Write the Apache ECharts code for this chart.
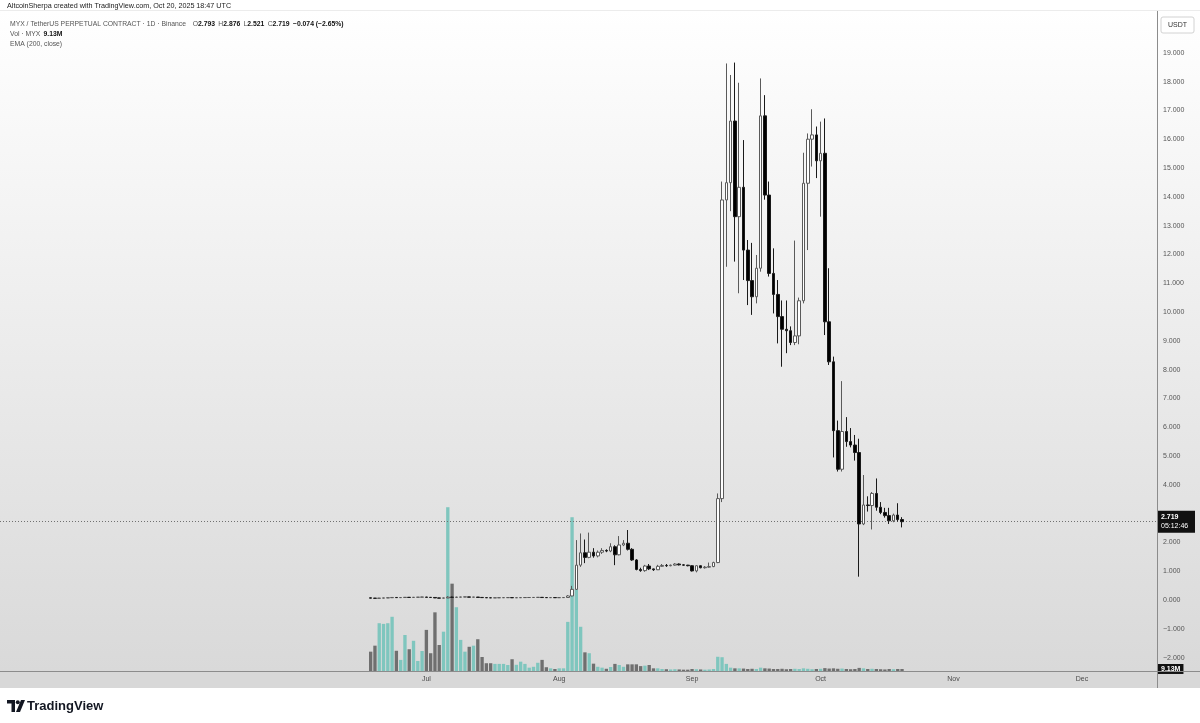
<!DOCTYPE html>
<html><head><meta charset="utf-8">
<script src="https://cdn.jsdelivr.net/npm/echarts@6/dist/echarts.min.js"></script>
<style>html,body{margin:0;padding:0;background:#fff}#c{width:1200px;height:723px}</style>
</head><body><div id="c"></div>
<script>
// ---- data (MYX/USDT perpetual, 1D, Binance) ----
const firstDate = '2025-06-18';
const opens = [0.075,0.065,0.058,0.066,0.072,0.079,0.088,0.082,0.086,0.094,0.088,0.095,0.098,
  0.104,0.092,0.088,0.072,0.065,0.070,0.100,0.092,0.100,0.104,0.108,0.098,0.102,0.090,0.083,0.078,0.074,0.077,0.080,0.082,0.084,0.078,0.080,0.084,0.086,0.087,0.089,0.093,0.085,0.082,0.084,
  0.081,0.083,0.087,0.140,0.370,1.21,1.64,1.48,1.66,1.53,1.66,1.72,1.70,1.85,1.57,1.91,1.97,1.76,1.39,1.06,1.02,1.18,1.08,1.05,1.17,1.20,1.19,1.21,1.25,1.22,1.21,
  1.19,1.01,1.19,1.12,1.14,1.16,1.30,3.52,13.89,14.49,16.63,13.31,14.33,12.15,11.09,10.53,11.52,16.81,14.06,11.34,10.61,9.84,9.40,9.35,8.94,9.17,10.39,14.47,16.00,16.15,
  15.25,15.51,9.66,8.27,5.88,4.54,5.85,5.50,5.38,5.12,2.64,3.30,3.28,3.70,3.22,3.04,2.93,2.75,2.95,2.793];
const highs = [0.080,0.070,0.072,0.076,0.084,0.095,0.092,0.089,0.099,0.097,0.099,0.100,0.108,
  0.107,0.095,0.091,0.076,0.078,0.135,0.115,0.112,0.108,0.112,0.110,0.105,0.104,0.092,0.086,0.080,0.079,0.082,0.084,0.086,0.086,0.082,0.087,0.088,0.088,0.090,0.096,0.094,0.087,0.086,0.085,
  0.085,0.090,0.170,0.490,2.08,2.31,2.10,2.34,1.80,1.72,1.80,1.76,1.97,1.90,2.22,2.08,2.43,1.80,1.42,1.12,1.22,1.25,1.09,1.22,1.25,1.25,1.23,1.28,1.27,1.24,1.22,
  1.21,1.21,1.20,1.18,1.30,1.33,3.70,14.53,18.63,18.23,18.66,17.96,15.97,12.50,12.40,11.98,18.11,17.53,14.53,12.21,11.11,10.40,10.40,9.50,12.48,10.50,15.53,16.20,17.04,16.44,
  16.61,16.72,11.52,8.45,6.23,7.60,6.35,5.97,5.73,5.60,4.34,3.60,3.75,4.22,3.40,3.20,3.20,3.00,3.36,2.876];
const lows = [0.060,0.055,0.055,0.062,0.068,0.075,0.078,0.079,0.083,0.085,0.086,0.092,0.095,
  0.090,0.086,0.068,0.062,0.060,0.065,0.085,0.088,0.095,0.100,0.096,0.094,0.088,0.081,0.076,0.072,0.072,0.075,0.078,0.080,0.076,0.076,0.078,0.082,0.084,0.085,0.087,0.083,0.080,0.081,0.079,
  0.080,0.082,0.080,0.130,0.350,1.15,1.28,1.45,1.47,1.48,1.60,1.66,1.66,1.21,1.55,1.87,1.72,1.36,1.03,0.98,0.98,1.04,1.01,1.04,1.15,1.15,1.17,1.19,1.20,1.19,1.17,
  0.99,0.96,1.10,1.09,1.12,1.14,1.28,3.40,11.57,13.50,11.75,10.65,11.11,10.24,9.90,10.30,11.40,13.90,11.23,9.95,8.91,8.10,8.57,8.85,8.85,8.88,10.30,12.15,15.05,14.65,
  13.31,9.20,8.16,4.95,4.46,4.46,5.32,5.30,4.84,0.81,2.60,3.07,2.45,3.10,2.98,2.86,2.64,2.70,2.72,2.521];
const closes = [0.065,0.058,0.066,0.072,0.079,0.088,0.082,0.086,0.094,0.088,0.095,0.098,0.104,
  0.092,0.088,0.072,0.065,0.070,0.100,0.092,0.100,0.104,0.108,0.098,0.102,0.090,0.083,0.078,0.074,0.077,0.080,0.082,0.084,0.078,0.080,0.084,0.086,0.087,0.089,0.093,0.085,0.082,0.084,0.081,
  0.083,0.087,0.140,0.370,1.21,1.64,1.48,1.66,1.53,1.66,1.72,1.70,1.85,1.57,1.91,1.97,1.76,1.39,1.06,1.02,1.18,1.08,1.05,1.17,1.20,1.19,1.21,1.25,1.22,1.21,1.19,
  1.01,1.19,1.12,1.14,1.16,1.30,3.52,13.89,14.49,16.63,13.31,14.33,12.15,11.09,10.53,11.52,16.81,14.06,11.34,10.61,9.84,9.40,9.35,8.94,9.17,10.39,14.47,16.00,16.15,15.25,
  15.51,9.66,8.27,5.88,4.54,5.85,5.50,5.38,5.12,2.64,3.30,3.28,3.70,3.22,3.04,2.93,2.75,2.95,2.793,2.719];
// volume in millions of MYX
const volumes = [87,114,215,212,215,244,91,50,162,98,136,45,90,
  185,80,264,117,177,737,393,287,140,87,109,114,143,63,35,35,32,32,32,27,53,28,42,32,15,19,37,50,17,12,9,
  12,12,221,692,368,199,84,80,33,19,15,10,18,32,27,19,30,30,30,22,24,27,12,12,9,8,7,8,7,6,6,
  9,8,7,6,7,9,64,62,32,15,12,12,11,9,10,9,15,12,11,9,9,10,8,9,10,9,12,10,8,9,
  10,13,11,12,10,11,9,8,9,14,12,9,10,9,8,7,9,8,9,9.13];
const monthTicks = ['Jul','Aug','Sep','Oct','Nov','Dec'];
const axisStart = '2025-03-24', axisDays = 270;
const priceAxis = { min: -2, max: 20, step: 1, hideAbove: 19 };
const countdown = '05:12:46';
const volLabel = '9.13M';

// ---- build ----
const DAY = 86400000;
const toUTC = s => { const p = s.split('-').map(Number); return Date.UTC(p[0], p[1]-1, p[2]); };
const iso = t => new Date(t).toISOString().slice(0,10);
const cats = [];
for (let i = 0; i < axisDays; i++) cats.push(iso(toUTC(axisStart) + i*DAY));
const offset = cats.indexOf(firstDate);
const candle = cats.map(() => '-');
const vol = cats.map(() => '-');
opens.forEach((o, i) => {
  candle[offset+i] = [o, closes[i], lows[i], highs[i]];
  vol[offset+i] = { value: volumes[i], itemStyle: { color: closes[i] >= o ? '#7fc6be' : '#6f6f6f' } };
});
const n = closes.length;
const lastClose = closes[n-1], prevClose = closes[n-2];
const chg = lastClose - prevClose, pct = chg / prevClose * 100;
const mfmt = v => (v < 0 ? '\u2212' : '') + Math.abs(v).toFixed(3);
const FONT = '"Liberation Sans", Arial, sans-serif';

const chart = echarts.init(document.getElementById('c'), null, { renderer: 'canvas' });
chart.setOption({
  animation: false,
  backgroundColor: 'transparent',
  textStyle: { fontFamily: FONT },
  grid: [
    { left: 0, right: 43, top: 24, bottom: 65.4 },
    { left: 0, right: 43, top: 471, bottom: 52 }
  ],
  xAxis: [
    { type: 'category', gridIndex: 0, data: cats, boundaryGap: true, show: false },
    { type: 'category', gridIndex: 1, data: cats, boundaryGap: true,
      axisLine: { show: true, lineStyle: { color: '#8c8c8c', width: 1 } },
      axisTick: { show: false }, splitLine: { show: false },
      axisLabel: { color: '#4a4a4a', fontSize: 7, margin: 5, fontFamily: FONT,
        interval: (idx, val) => val.endsWith('-01') && val >= '2025-07-01',
        formatter: val => monthTicks[Number(val.slice(5,7)) - 7] || '' } }
  ],
  yAxis: [
    { type: 'value', gridIndex: 0, position: 'right', min: priceAxis.min, max: priceAxis.max, interval: priceAxis.step,
      axisLine: { show: false }, axisTick: { show: false }, splitLine: { show: false },
      axisLabel: { color: '#555', fontSize: 7, margin: 6, fontFamily: FONT,
        formatter: v => v > priceAxis.hideAbove ? '' : mfmt(v) } },
    { type: 'value', gridIndex: 1, min: 0, max: 900, show: false, splitLine: { show: false } }
  ],
  series: [
    { type: 'bar', name: 'Vol', xAxisIndex: 1, yAxisIndex: 1, data: vol, barWidth: '78%', z: 1,
      markLine: { silent: true, symbol: ['none','none'], animation: false,
        data: [{ yAxis: volumes[n-1] }], lineStyle: { color: 'rgba(0,0,0,0)', width: 0 },
        label: { show: true, position: 'end', distance: 1, formatter: volLabel, opacity: 1,
          backgroundColor: '#111', color: '#fff', fontSize: 7, fontWeight: 'bold', padding: [2,3,1,3], fontFamily: FONT } } },
    { type: 'candlestick', name: 'MYX', xAxisIndex: 0, yAxisIndex: 0, data: candle, barWidth: 3, z: 5,
      itemStyle: { color: '#ffffff', color0: '#000000', borderColor: '#5a5a5a', borderColor0: '#1a1a1a', borderWidth: 1 },
      markLine: { silent: true, symbol: ['none','none'], animation: false,
        data: [{ yAxis: lastClose }],
        lineStyle: { color: '#707070', type: [1, 2], width: 1 },
        label: { show: true, position: 'end', distance: 1,
          formatter: '{p|' + lastClose.toFixed(3) + '}\n{t|' + countdown + '}',
          backgroundColor: '#111', padding: [2, 4, 2, 3], width: 30,
          rich: { p: { color: '#fff', fontSize: 7, fontWeight: 'bold', lineHeight: 9, fontFamily: FONT },
                  t: { color: '#fff', fontSize: 7, lineHeight: 9, fontFamily: FONT } } } } }
  ],
  graphic: [
    { type: 'rect', z: -100, silent: true, shape: { x: 0, y: 10, width: 1200, height: 662 },
      style: { fill: new echarts.graphic.LinearGradient(0, 0, 0, 1, [{ offset: 0, color: '#ffffff' }, { offset: 1, color: '#d9d9d9' }]) } },
    { type: 'rect', z: -100, silent: true, shape: { x: 0, y: 672, width: 1200, height: 16 }, style: { fill: '#d8d8d8' } },
    { type: 'line', z: 50, silent: true, shape: { x1: 0, y1: 671.5, x2: 1200, y2: 671.5 }, style: { stroke: '#8c8c8c', lineWidth: 1 } },
    { type: 'line', z: 50, silent: true, shape: { x1: 1157.5, y1: 10, x2: 1157.5, y2: 688 }, style: { stroke: '#8c8c8c', lineWidth: 1 } },
    { type: 'line', z: 50, silent: true, shape: { x1: 0, y1: 10.5, x2: 1200, y2: 10.5 }, style: { stroke: '#ececec', lineWidth: 1 } },
    { type: 'rect', z: 60, silent: true, shape: { x: 1161, y: 17, width: 33, height: 16, r: 2 }, style: { fill: '#ffffff', stroke: '#d2d2d2', lineWidth: 1 } },
    { type: 'text', z: 61, silent: true, x: 1177.5, y: 25, style: { text: 'USDT', fill: '#333', fontSize: 7, fontFamily: FONT, align: 'center', verticalAlign: 'middle' } },
    { type: 'text', z: 61, silent: true, x: 7, y: 6, style: { text: 'AltcoinSherpa created with TradingView.com, Oct 20, 2025 18:47 UTC', fill: '#1a1a1a', fontSize: 7.2, fontFamily: FONT, verticalAlign: 'middle' } },
    { type: 'text', z: 61, silent: true, x: 10, y: 24, style: {
        text: '{g|MYX / TetherUS PERPETUAL CONTRACT \u00b7 1D \u00b7 Binance}  {g|O}{b|' + opens[n-1].toFixed(3) + '} {g|H}{b|' + highs[n-1].toFixed(3) + '} {g|L}{b|' + lows[n-1].toFixed(3) + '} {g|C}{b|' + lastClose.toFixed(3) + '} {b|' + mfmt(chg) + ' (' + (pct < 0 ? '\u2212' : '') + Math.abs(pct).toFixed(2) + '%)}',
        verticalAlign: 'middle',
        rich: { g: { fill: '#555', fontSize: 6.8, fontFamily: FONT }, b: { fill: '#111', fontSize: 6.8, fontFamily: FONT, fontWeight: 'bold' } } } },
    { type: 'text', z: 61, silent: true, x: 10, y: 34, style: {
        text: '{g|Vol \u00b7 MYX} {b|' + volLabel + '}', verticalAlign: 'middle',
        rich: { g: { fill: '#555', fontSize: 6.8, fontFamily: FONT }, b: { fill: '#111', fontSize: 6.8, fontFamily: FONT, fontWeight: 'bold' } } } },
    { type: 'text', z: 61, silent: true, x: 10, y: 44, style: { text: 'EMA (200, close)', fill: '#555', fontSize: 6.8, fontFamily: FONT, verticalAlign: 'middle' } },
    { type: 'polygon', z: 61, silent: true, shape: { points: [[7,700],[15,700],[15,712],[11.5,712],[11.5,703.5],[7,703.5]] }, style: { fill: '#131722' } },
    { type: 'circle', z: 61, silent: true, shape: { cx: 17.8, cy: 702.2, r: 2 }, style: { fill: '#131722' } },
    { type: 'polygon', z: 61, silent: true, shape: { points: [[21,700],[25,700],[20,712],[16,712]] }, style: { fill: '#131722' } },
    { type: 'text', z: 61, silent: true, x: 27, y: 706, style: { text: 'TradingView', fill: '#131722', fontSize: 13, fontFamily: FONT, fontWeight: 'bold', verticalAlign: 'middle' } }
  ]
});
</script></body></html>
